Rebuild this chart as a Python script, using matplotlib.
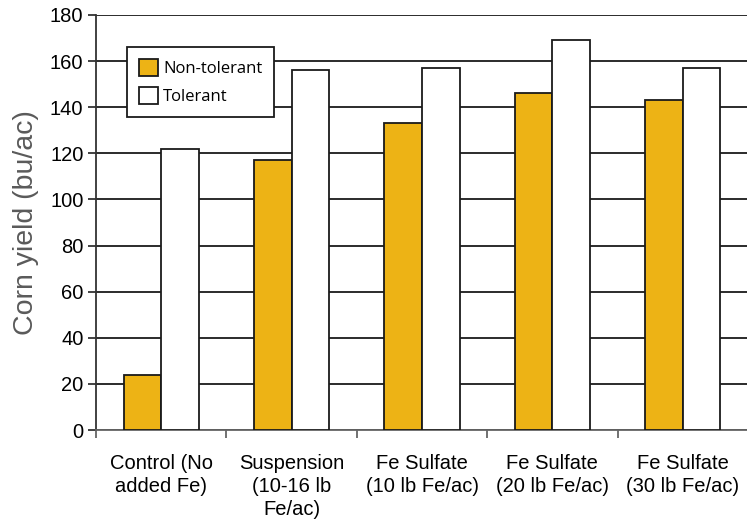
import matplotlib
matplotlib.use("Agg")
import matplotlib.pyplot as plt
import numpy as np

categories = ["Control (No\nadded Fe)", "Suspension\n(10-16 lb\nFe/ac)",
              "Fe Sulfate\n(10 lb Fe/ac)", "Fe Sulfate\n(20 lb Fe/ac)",
              "Fe Sulfate\n(30 lb Fe/ac)"]
non_tolerant = [24, 117, 133, 146, 143]
tolerant = [122, 156, 157, 169, 157]
yticks = [0, 20, 40, 60, 80, 100, 120, 140, 160, 180]

plt.rcParams['font.family'] = ['Liberation Sans', 'DejaVu Sans']

fig = plt.figure(figsize=(7.47, 5.29), dpi=100)
ax = fig.add_axes([96/747, 1-430/529, 652/747, 415/529])

x = np.arange(len(categories))
w = 0.288
ax.set_axisbelow(True)
ax.yaxis.grid(True, color='#1a1a1a', linewidth=1.3)
ax.bar(x - w/2, non_tolerant, w, color='#EDB315', edgecolor='#1a1a1a', linewidth=1.3, label='Non-tolerant', zorder=3)
ax.bar(x + w/2, tolerant, w, color='white', edgecolor='#1a1a1a', linewidth=1.3, label='Tolerant', zorder=3)

ax.set_xlim(-0.5, len(categories) - 0.5)
ax.set_ylim(0, 180)
ax.set_yticks(yticks)
ax.set_xticks(x)
ax.set_xticklabels(categories, fontsize=14.5, linespacing=1.28)
ax.tick_params(axis='x', length=0, pad=17)
ax.set_xticks(np.arange(-0.5, len(categories) + 0.5, 1), minor=True)
ax.tick_params(axis='x', which='minor', length=6, width=1.3, color='#666666')
ax.tick_params(axis='y', labelsize=14.5, length=6, width=1.3, color='#333333', pad=3)

for s in ['top', 'right']:
    ax.spines[s].set_visible(False)
ax.spines['left'].set_color('#333333')
ax.spines['bottom'].set_color('#666666')
ax.spines['left'].set_linewidth(1.3)
ax.spines['bottom'].set_linewidth(1.3)

ax.set_ylabel('Corn yield (bu/ac)', fontsize=20.5, color='#5a5a5a', labelpad=8)

leg = ax.legend(loc='upper left', bbox_to_anchor=(0.0475, 0.923), frameon=True, fancybox=False,
                edgecolor='#1a1a1a', framealpha=1, prop={'family': 'Open Sans', 'size': 12},
                handlelength=1.14, handleheight=1.2, handletextpad=0.3, borderpad=0.72,
                labelspacing=0.58, borderaxespad=0)
leg.get_frame().set_linewidth(1.3)
leg.set_zorder(5)

fig.savefig('out.png', dpi=100)
